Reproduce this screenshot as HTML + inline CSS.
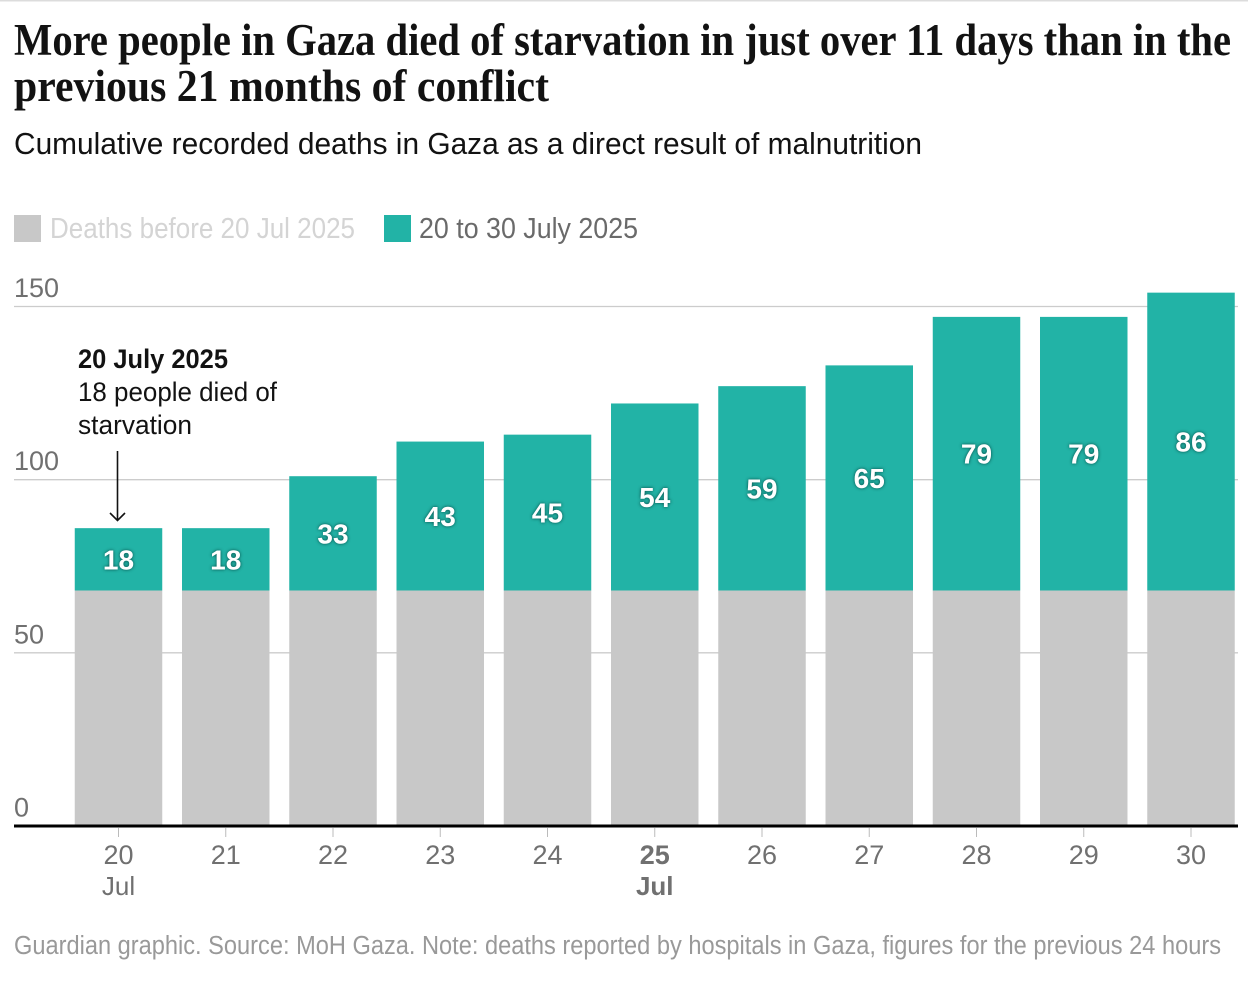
<!DOCTYPE html>
<html lang="en">
<head>
<meta charset="utf-8">
<title>Gaza starvation deaths</title>
<style>
html,body{margin:0;padding:0;background:#fff;width:1248px;height:989px;overflow:hidden}
svg{display:block}
text{font-family:"Liberation Sans",sans-serif}
.title{font-family:"Liberation Serif",serif;font-weight:700;font-size:45px;fill:#121212}
</style>
</head>
<body>
<svg id="chart" width="1248" height="989" viewBox="0 0 1248 989" xmlns="http://www.w3.org/2000/svg">
  <rect x="0" y="0" width="1248" height="1.5" fill="#dcdcdc"/>
  <text class="title" x="14" y="55" textLength="1217" lengthAdjust="spacingAndGlyphs">More people in Gaza died of starvation in just over 11 days than in the</text>
  <text class="title" x="14" y="101" textLength="535" lengthAdjust="spacingAndGlyphs">previous 21 months of conflict</text>
  <text x="14" y="154" font-size="31" fill="#121212" textLength="908" lengthAdjust="spacingAndGlyphs">Cumulative recorded deaths in Gaza as a direct result of malnutrition</text>

  <rect x="14" y="215" width="27" height="27" fill="#c8c8c8"/>
  <text x="50" y="238" font-size="29" fill="#d4d4d4" textLength="305" lengthAdjust="spacingAndGlyphs">Deaths before 20 Jul 2025</text>
  <rect x="384" y="215" width="27" height="27" fill="#22b3a6"/>
  <text x="419" y="238" font-size="29" fill="#6a6a6a" textLength="219" lengthAdjust="spacingAndGlyphs">20 to 30 July 2025</text>

  <g id="grid"></g>
  <g id="bars"></g>
  <g id="xaxis"></g>

  <g>
    <text x="78" y="368" font-size="27" font-weight="700" fill="#121212" textLength="150" lengthAdjust="spacingAndGlyphs">20 July 2025</text>
    <text x="78" y="401" font-size="27" fill="#121212" textLength="199" lengthAdjust="spacingAndGlyphs">18 people died of</text>
    <text x="78" y="434" font-size="27" fill="#121212" textLength="114" lengthAdjust="spacingAndGlyphs">starvation</text>
    <path d="M117.5 451V520M110 513L117.5 520.5L125 513" fill="none" stroke="#121212" stroke-width="1.6"/>
  </g>

  <text x="14" y="954" font-size="25.5" fill="#999999" textLength="1207" lengthAdjust="spacingAndGlyphs">Guardian graphic. Source: MoH Gaza. Note: deaths reported by hospitals in Gaza, figures for the previous 24 hours</text>
</svg>
<script>
const days = ["20","21","22","23","24","25","26","27","28","29","30"];
const monthLabels = ["Jul","","","","","Jul","","","","",""];
const emphasisDays = ["25"];
const deathsBefore = [68,68,68,68,68,68,68,68,68,68,68];
const recentDeaths = [18,18,33,43,45,54,59,65,79,79,86];
const yTicks = [0,50,100,150];

const NS = "http://www.w3.org/2000/svg";
const plotBottom = 826, unitHeight = 519.5 / 150;
const firstCentre = 118.5, step = 107.25, barWidth = 87.5;
const yScale = v => plotBottom - v * unitHeight;
const xScale = i => firstCentre + step * i;

function make(parent, tag, attrs, content) {
  const el = document.createElementNS(NS, tag);
  for (const k in attrs) el.setAttribute(k, attrs[k]);
  if (content !== undefined) el.textContent = content;
  parent.appendChild(el);
  return el;
}

const grid = document.getElementById("grid");
yTicks.forEach(t => {
  const y = yScale(t);
  if (t > 0) {
    const line = make(grid, "line", {x1:14, x2:1238, y1:y, y2:y, stroke:"#cccccc", "stroke-width":1.3});
    
    
  }
  const label = make(grid, "text", {x:14, y:y - 9.5, "font-size":27, fill:"#707070"}, String(t));
  
  
});

const bars = document.getElementById("bars");
days.forEach((d, i) => {
  const x = xScale(i) - barWidth / 2;
  const yBefore = yScale(deathsBefore[i]);
  const yTop = yScale(deathsBefore[i] + recentDeaths[i]);
  const grey = make(bars, "rect", {x:x, y:yBefore, width:barWidth, height:plotBottom - yBefore, fill:"#c8c8c8"});
  
  
  const teal = make(bars, "rect", {x:x, y:yTop, width:barWidth, height:yBefore - yTop, fill:"#22b3a6"});
  
  
  const value = make(bars, "text", {
    x:xScale(i), y:(yTop + yBefore) / 2 + 10, "font-size":28, "font-weight":700,
    fill:"#ffffff", "text-anchor":"middle", style:"text-shadow:0 0 3px rgba(0,60,55,.9)"
  }, String(recentDeaths[i]));
  
  
});

const xaxis = document.getElementById("xaxis");
const axisLine = make(xaxis, "line", {x1:14, x2:1238, y1:plotBottom, y2:plotBottom, stroke:"#000000", "stroke-width":3});


days.forEach((d, i) => {
  const x = xScale(i);
  const strong = emphasisDays.includes(d);
  const tick = make(xaxis, "line", {x1:x, x2:x, y1:828, y2:837, stroke:"#bbbbbb", "stroke-width":1});
  
  
  const label = make(xaxis, "text", {x:x, y:864, "font-size":27, fill:"#707070", "text-anchor":"middle", "font-weight":strong ? 700 : 400}, d);
  
  
  if (monthLabels[i]) {
    const month = make(xaxis, "text", {x:x, y:895, "font-size":26, fill:"#707070", "text-anchor":"middle", "font-weight":strong ? 700 : 400}, monthLabels[i]);
    
    
  }
});
</script>
</body>
</html>
